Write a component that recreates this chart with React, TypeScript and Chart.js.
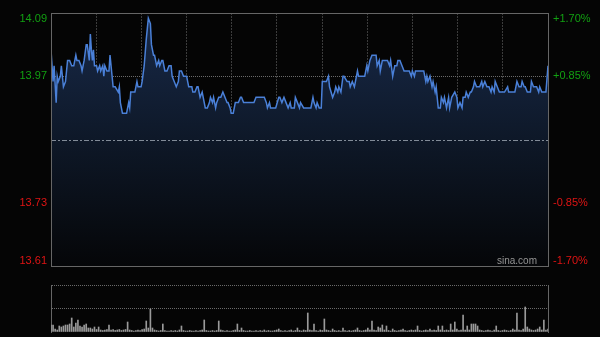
import React, { useEffect, useRef } from "react";
import { Chart, registerables } from "chart.js";
Chart.register(...registerables);

const X_MAX = 240;
const X_SECTIONS = 11;
const PRICE_MIN = 13.61;
const PRICE_MAX = 14.09;
const PREV_CLOSE = 13.85;
const priceTicks = [13.61, 13.73, 13.85, 13.97, 14.09];
const leftLabels = ["13.61", "13.73", "", "13.97", "14.09"];
const rightLabels = ["-1.70%", "-0.85%", "", "+0.85%", "+1.70%"];
const VOL_MAX = 4700;
const volTicks = [0, 2350, 4700];

const times = [
  0, 1, 1.5, 2.5, 3, 3.5, 4.5, 5, 6, 7, 8, 9, 10, 11, 12, 12.5, 13.5, 14.5, 15, 16,
  17, 17.5, 18.5, 19, 19.5, 20, 20.5, 21, 22, 22.5, 23.5, 24, 25, 25.5, 26, 27, 28, 28.5, 29.5, 30,
  31, 32.5, 33, 33.5, 34.5, 36.5, 37.5, 38, 38.5, 40.5, 41.5, 42, 43.5, 44, 45, 46, 47, 48, 48.5, 49.5,
  50, 51, 52, 52.5, 53.5, 54, 55, 56, 57, 58, 58.5, 59.5, 60.5, 61.5, 62, 63, 64, 65.5, 66.5, 68,
  68.5, 69.5, 70.5, 71, 72, 73, 73.5, 74.5, 75.5, 76.5, 77, 78, 78.5, 79.5, 80, 81, 82, 83, 84, 85,
  85.5, 86.5, 87, 88, 89, 90.5, 91.5, 92, 93, 98, 99, 103, 104, 104.5, 105.5, 106, 108.5, 110, 110.5, 111.5,
  112.5, 113.5, 114.5, 115.5, 116, 117.5, 118, 119, 120, 120.5, 122, 125.5, 126.5, 127, 128, 128.5, 129.5, 130.5, 131, 132,
  133, 134, 134.5, 136, 137, 137.5, 138.5, 139, 140, 141, 141.5, 143, 144, 144.5, 145.5, 146.5, 147, 148, 148.5, 151.5,
  152.5, 153, 154, 155, 157, 157.5, 158.5, 159, 160, 162.5, 163.5, 164, 165, 166, 167, 167.5, 168.5, 169.5, 170.5, 173,
  174, 174.5, 175.5, 176, 180, 181, 181.5, 182, 183, 184, 184.5, 185.5, 186, 187, 188, 188.5, 189.5, 190, 191, 192,
  192.5, 193.5, 195, 196, 196.5, 197.5, 198.5, 199, 200, 200.5, 201.5, 202.5, 203, 204, 204.5, 205.5, 207, 208, 208.5, 209.5,
  210.5, 211.5, 212.5, 213, 214, 214.5, 215.5, 216.5, 219, 220.5, 221, 224, 225, 226, 227, 227.5, 228.5, 229, 230, 231.5,
  232, 233, 234.5, 235.5, 236, 237, 239, 240,
];

const prices = [
  14.02, 13.96, 13.99, 13.92, 13.97, 13.96, 13.97, 13.99, 13.95, 13.96, 14.0, 14.0, 13.99, 13.99, 14.01, 14.0, 14.0, 13.99, 13.98, 14.0,
  14.03, 14.03, 14.0, 14.05, 14.02, 14.0, 14.02, 13.99, 13.99, 13.98, 13.99, 13.98, 13.99, 13.97, 13.99, 13.98, 13.98, 14.01, 13.97, 13.95,
  13.95, 13.94, 13.95, 13.92, 13.9, 13.9, 13.92, 13.91, 13.94, 13.94, 13.96, 13.95, 13.95, 13.96, 13.99, 14.04, 14.08, 14.07, 14.03, 14.01,
  14.01, 13.99, 14.0, 13.99, 14.0, 14.0, 13.98, 13.98, 13.99, 13.99, 13.97, 13.96, 13.95, 13.96, 13.98, 13.98, 13.97, 13.97, 13.95, 13.95,
  13.94, 13.94, 13.95, 13.95, 13.93, 13.94, 13.93, 13.91, 13.91, 13.92, 13.93, 13.92, 13.93, 13.91, 13.92, 13.93, 13.93, 13.94, 13.93, 13.92,
  13.92, 13.91, 13.9, 13.9, 13.92, 13.92, 13.93, 13.93, 13.92, 13.92, 13.93, 13.93, 13.92, 13.91, 13.92, 13.91, 13.91, 13.93, 13.93, 13.92,
  13.93, 13.92, 13.91, 13.92, 13.91, 13.91, 13.93, 13.92, 13.91, 13.92, 13.91, 13.91, 13.93, 13.92, 13.91, 13.92, 13.91, 13.91, 13.96, 13.96,
  13.96, 13.97, 13.95, 13.93, 13.94, 13.95, 13.94, 13.95, 13.94, 13.97, 13.97, 13.96, 13.96, 13.95, 13.96, 13.95, 13.96, 13.98, 13.97, 13.97,
  13.99, 13.98, 14.0, 14.01, 14.01, 13.99, 14.0, 13.98, 14.0, 14.0, 13.99, 14.0, 13.97, 13.99, 13.99, 14.0, 14.0, 13.99, 13.98, 13.98,
  13.97, 13.98, 13.97, 13.98, 13.98, 13.96, 13.97, 13.96, 13.97, 13.95, 13.96, 13.94, 13.95, 13.91, 13.91, 13.93, 13.92, 13.93, 13.91, 13.93,
  13.91, 13.93, 13.94, 13.93, 13.91, 13.92, 13.91, 13.93, 13.93, 13.94, 13.93, 13.94, 13.94, 13.95, 13.96, 13.95, 13.95, 13.96, 13.95, 13.96,
  13.95, 13.95, 13.94, 13.95, 13.94, 13.96, 13.95, 13.94, 13.94, 13.95, 13.94, 13.94, 13.96, 13.95, 13.95, 13.96, 13.95, 13.95, 13.94, 13.94,
  13.96, 13.95, 13.95, 13.94, 13.95, 13.94, 13.94, 13.99,
];

const volumes = [
  700, 700, 300, 200, 600, 500, 600, 700, 700, 800, 1400, 500, 900, 1200, 600, 500, 700, 800, 400, 400,
  300, 500, 250, 500, 200, 150, 200, 250, 700, 200, 250, 150, 200, 250, 150, 200, 250, 1000, 200, 150,
  100, 150, 200, 150, 250, 300, 1100, 400, 2300, 400, 200, 150, 100, 150, 800, 150, 100, 100, 150, 100,
  150, 100, 200, 600, 150, 100, 100, 150, 100, 100, 150, 100, 150, 200, 1200, 150, 100, 100, 150, 100,
  150, 1100, 200, 150, 100, 150, 100, 100, 150, 200, 800, 150, 400, 150, 100, 100, 150, 100, 100, 150,
  100, 150, 100, 200, 100, 150, 100, 100, 150, 200, 300, 150, 100, 150, 100, 150, 200, 100, 150, 400,
  150, 100, 200, 150, 1900, 200, 150, 800, 150, 100, 200, 150, 1300, 200, 150, 100, 300, 150, 100, 150,
  100, 400, 150, 100, 150, 100, 150, 200, 400, 150, 100, 150, 200, 400, 200, 1100, 200, 150, 500, 400,
  700, 200, 600, 150, 100, 300, 150, 100, 150, 200, 300, 150, 100, 150, 200, 150, 200, 600, 150, 100,
  150, 200, 150, 300, 150, 200, 150, 600, 200, 600, 150, 200, 150, 800, 200, 1000, 300, 150, 200, 1700,
  200, 600, 200, 800, 800, 800, 600, 200, 150, 100, 150, 200, 150, 100, 200, 600, 150, 100, 150, 200,
  150, 100, 150, 300, 200, 1900, 200, 150, 300, 2500, 500, 300, 200, 150, 200, 300, 500, 200, 1200, 200,
  300,
];

const FONT = '"Liberation Sans", Arial, sans-serif';
const GREEN = "#12a012";
const RED = "#e01414";
const FRAME = "#666666";

const xGridTicks = () =>
  Array.from({ length: X_SECTIONS + 1 }, (_, k) => ({ value: (k * X_MAX) / X_SECTIONS }));

// top label pushed below its line, bottom label lifted above it (as in the reference)
const placeLabel = (text: string, value: number) => {
  if (!text) return "";
  if (value === PRICE_MAX) return ["", text];
  if (value === PRICE_MIN) return [text, ""];
  return text;
};

const noScalePadding = (s: any) => {
  s.paddingTop = 0;
  s.paddingBottom = 0;
};

const framePlugin = {
  id: "frame",
  afterDatasetsDraw(chart: any) {
    const { ctx, chartArea: a, scales } = chart;
    ctx.save();
    const yPc = Math.round(scales.y.getPixelForValue(PREV_CLOSE)) + 0.5;
    ctx.strokeStyle = "rgba(150,160,172,0.85)";
    ctx.lineWidth = 1;
    ctx.setLineDash([5, 2, 2, 2]);
    ctx.beginPath();
    ctx.moveTo(a.left, yPc);
    ctx.lineTo(a.right, yPc);
    ctx.stroke();
    ctx.setLineDash([]);
    ctx.strokeStyle = FRAME;
    ctx.strokeRect(Math.round(a.left) + 0.5, Math.round(a.top) + 0.5, Math.round(a.right - a.left), Math.round(a.bottom - a.top));
    ctx.fillStyle = "#959595";
    ctx.font = "10px " + FONT;
    ctx.textAlign = "right";
    ctx.textBaseline = "alphabetic";
    ctx.fillText("sina.com", a.right - 11, a.bottom - 2);
    ctx.restore();
  },
};

export default function App() {
  const priceRef = useRef<HTMLCanvasElement>(null);
  const volRef = useRef<HTMLCanvasElement>(null);

  useEffect(() => {
    const tickColor = (c: any) => (c.tick && c.tick.value > PREV_CLOSE ? GREEN : RED);
    const priceChart = new Chart(priceRef.current as HTMLCanvasElement, {
      type: "line",
      data: {
        datasets: [
          {
            data: times.map((t, i) => ({ x: t, y: prices[i] })),
            borderColor: "#4a80d8",
            borderWidth: 1.5,
            pointRadius: 0,
            tension: 0,
            fill: "start",
            backgroundColor: (c: any) => {
              const a = c.chart.chartArea;
              if (!a) return "transparent";
              const g = c.chart.ctx.createLinearGradient(0, a.top, 0, a.bottom);
              g.addColorStop(0, "#182a4a");
              g.addColorStop(0.5, "#0e1828");
              g.addColorStop(1, "#050608");
              return g;
            },
          },
        ],
      },
      options: {
        responsive: false,
        animation: false,
        events: [],
        layout: { padding: { top: 13, bottom: 11, left: 0, right: 0 } },
        plugins: { legend: { display: false }, tooltip: { enabled: false } },
        scales: {
          x: {
            type: "linear",
            min: 0,
            max: X_MAX,
            afterBuildTicks: (s: any) => {
              s.ticks = xGridTicks();
            },
            ticks: { display: false },
            grid: {
              drawTicks: false,
              color: (c: any) =>
                c.index === 0 || c.index === X_SECTIONS ? "transparent" : "#3c3c3c",
            },
            border: { display: false, dash: [2, 1] },
            afterFit: (s: any) => {
              s.height = 0;
              s.paddingLeft = 0;
              s.paddingRight = 0;
            },
          },
          y: {
            position: "left",
            min: PRICE_MIN,
            max: PRICE_MAX,
            afterBuildTicks: (s: any) => {
              s.ticks = priceTicks.map((v) => ({ value: v }));
            },
            ticks: {
              callback: (v: any) => placeLabel(leftLabels[priceTicks.indexOf(v)], v),
              color: tickColor,
              font: { family: FONT, size: 11, lineHeight: 1 },
              padding: 4,
            },
            grid: {
              drawTicks: false,
              color: (c: any) =>
                c.tick && (c.tick.value === 13.97 || c.tick.value === 13.73) ? "#6a6a6a" : "transparent",
            },
            border: { display: false, dash: [1, 1] },
            afterFit: (s: any) => {
              s.width = 51;
              noScalePadding(s);
            },
          },
          y2: {
            position: "right",
            min: PRICE_MIN,
            max: PRICE_MAX,
            afterBuildTicks: (s: any) => {
              s.ticks = priceTicks.map((v) => ({ value: v }));
            },
            ticks: {
              callback: (v: any) => placeLabel(rightLabels[priceTicks.indexOf(v)], v),
              color: tickColor,
              font: { family: FONT, size: 11, lineHeight: 1 },
              padding: 5,
            },
            grid: { display: false, drawTicks: false },
            border: { display: false },
            afterFit: (s: any) => {
              s.width = 52;
              noScalePadding(s);
            },
          },
        },
      } as any,
      plugins: [framePlugin],
    });

    const volChart = new Chart(volRef.current as HTMLCanvasElement, {
      type: "bar",
      data: {
        datasets: [
          {
            data: volumes.map((v, i) => ({ x: i, y: v })),
            backgroundColor: "#9a9a9a",
            borderWidth: 0,
            barThickness: 1,
          },
        ],
      },
      options: {
        responsive: false,
        animation: false,
        events: [],
        layout: { padding: { top: 5, bottom: 5, left: 0, right: 0 } },
        plugins: { legend: { display: false }, tooltip: { enabled: false } },
        scales: {
          x: {
            type: "linear",
            min: 0,
            max: X_MAX,
            offset: false,
            display: false,
            grid: { offset: false },
          },
          y: {
            position: "left",
            min: 0,
            max: VOL_MAX,
            afterBuildTicks: (s: any) => {
              s.ticks = volTicks.map((v) => ({ value: v }));
            },
            ticks: { display: false },
            grid: {
              drawTicks: false,
              color: (c: any) => (c.tick && c.tick.value > 0 ? "#6a6a6a" : "transparent"),
            },
            border: { display: true, color: FRAME, width: 1, dash: [1, 1] },
            afterFit: (s: any) => {
              s.width = 51;
              noScalePadding(s);
            },
          },
          y2: {
            position: "right",
            min: 0,
            max: VOL_MAX,
            ticks: { display: false },
            grid: { display: false, drawTicks: false },
            border: { display: true, color: FRAME, width: 1 },
            afterFit: (s: any) => {
              s.width = 52;
              noScalePadding(s);
            },
          },
        },
      } as any,
    });

    return () => {
      priceChart.destroy();
      volChart.destroy();
    };
  }, []);

  return (
    <div
      style={{
        position: "fixed",
        left: 0,
        top: 0,
        width: 600,
        height: 337,
        background: "#050505",
        overflow: "hidden",
      }}
    >
      <canvas ref={priceRef} width={600} height={277} style={{ position: "absolute", left: 0, top: 0 }} />
      <canvas ref={volRef} width={600} height={57} style={{ position: "absolute", left: 0, top: 280 }} />
    </div>
  );
}
